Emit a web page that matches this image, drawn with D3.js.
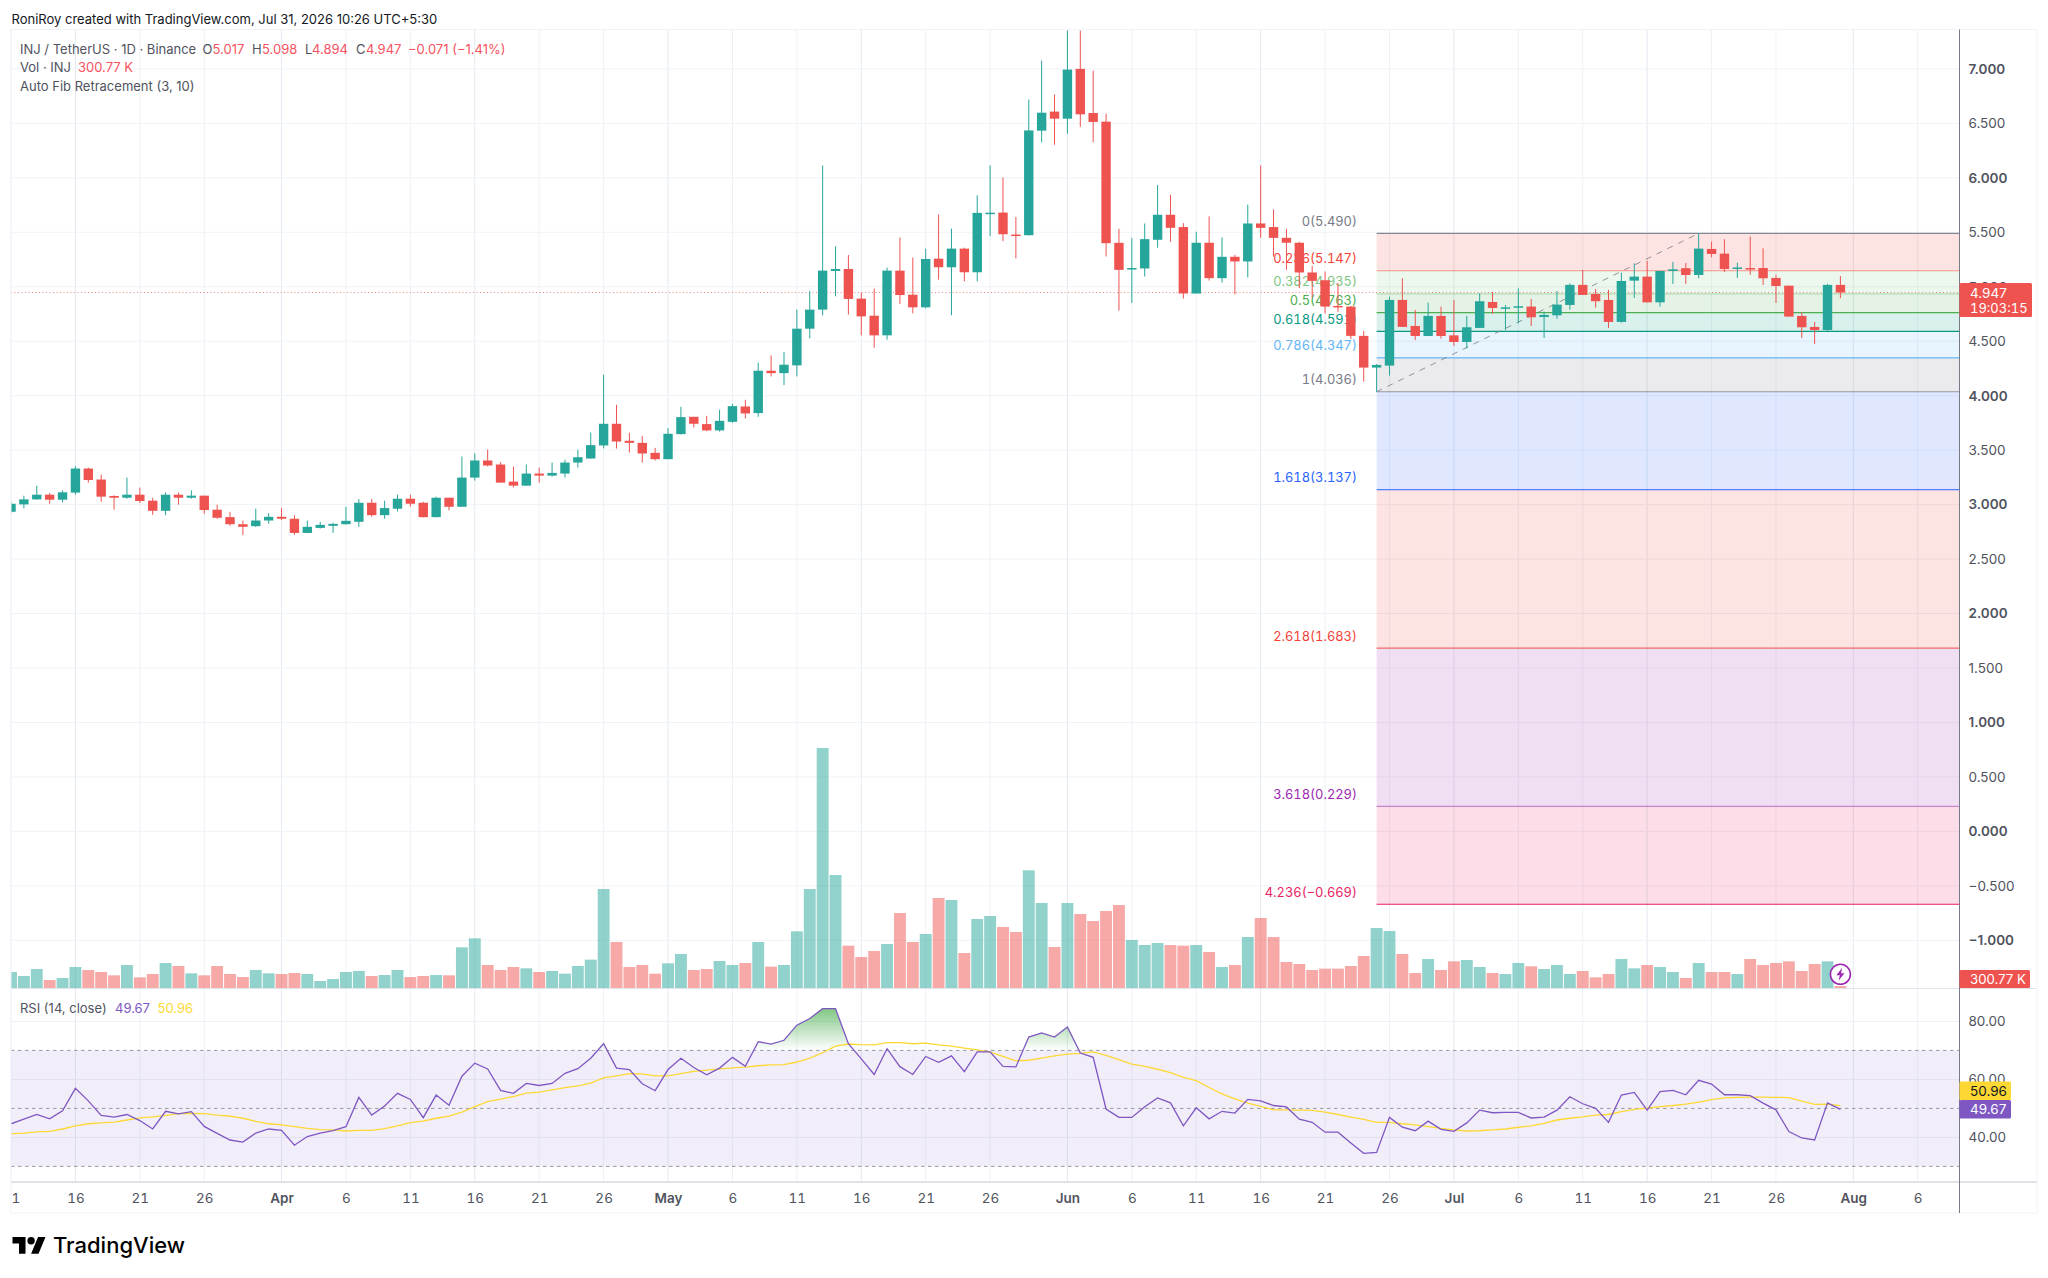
<!DOCTYPE html>
<html>
<head>
<meta charset="utf-8">
<title>INJ / TetherUS</title>
<script src="https://cdn.jsdelivr.net/npm/d3@7"></script>
<style>
  body { margin: 0; background: #fff; }
  svg { display: block; }
  text { font-family: Inter, "Noto Sans", sans-serif; }
  .tnum { font-variant-numeric: tabular-nums; }
</style>
</head>
<body>
<svg id="chart" width="2048" height="1278"></svg>
<script>
// daily candles, Mar 11 to Jul 31 2026
const startDay = Date.UTC(2026, 2, 11);
const endDay = Date.UTC(2026, 6, 31);

const opens = [
  2.934,3.002,3.048,3.091,3.045,3.110,3.331,3.230,3.079,3.063,
  3.091,3.036,2.943,3.091,3.063,3.082,2.953,2.885,2.820,2.802,
  2.854,2.888,2.870,2.740,2.786,2.805,2.820,2.842,3.017,2.903,
  2.962,3.054,3.017,2.885,3.063,2.980,3.248,3.405,3.368,3.211,
  3.174,3.285,3.266,3.285,3.386,3.423,3.543,3.742,3.586,3.567,
  3.475,3.417,3.647,3.806,3.739,3.681,3.760,3.901,3.840,4.229,
  4.207,4.278,4.615,4.790,5.145,5.163,4.891,4.734,4.554,5.148,
  4.927,4.811,5.258,5.179,5.350,5.133,5.678,5.681,5.479,5.473,
  6.433,6.608,6.543,7.000,6.595,6.516,5.403,5.170,5.168,5.431,
  5.661,5.548,4.938,5.404,5.079,5.275,5.232,5.581,5.548,5.449,
  5.404,5.131,5.060,4.824,4.818,4.549,4.258,4.276,4.879,4.640,
  4.548,4.732,4.554,4.493,4.622,4.860,4.808,4.818,4.818,4.722,
  4.738,4.833,5.017,4.934,4.879,4.677,5.056,5.093,4.857,5.145,
  5.170,5.108,5.347,5.304,5.175,5.172,5.172,5.081,5.010,4.732,
  4.631,4.603,5.017];
const closes = [
  3.008,3.048,3.091,3.045,3.113,3.331,3.226,3.073,3.063,3.091,
  3.033,2.943,3.091,3.063,3.082,2.950,2.879,2.820,2.796,2.854,
  2.888,2.870,2.740,2.796,2.814,2.823,2.851,3.017,2.903,2.968,
  3.054,3.008,2.885,3.063,2.980,3.248,3.405,3.359,3.202,3.174,
  3.285,3.266,3.291,3.386,3.435,3.546,3.742,3.579,3.567,3.469,
  3.417,3.650,3.803,3.742,3.681,3.769,3.904,3.837,4.229,4.207,
  4.284,4.615,4.790,5.148,5.163,4.888,4.728,4.554,5.148,4.924,
  4.811,5.255,5.179,5.350,5.133,5.678,5.680,5.482,5.473,6.435,
  6.598,6.543,6.994,6.583,6.513,5.400,5.155,5.172,5.437,5.661,
  5.541,4.938,5.404,5.079,5.275,5.232,5.581,5.541,5.449,5.404,
  5.131,5.054,4.818,4.818,4.549,4.258,4.282,4.879,4.631,4.548,
  4.732,4.548,4.493,4.628,4.867,4.805,4.811,4.821,4.720,4.741,
  4.836,5.017,4.925,4.867,4.677,5.053,5.093,4.857,5.145,5.160,
  5.108,5.350,5.301,5.163,5.177,5.163,5.078,5.007,4.726,4.628,
  4.603,5.017,4.947];
const highs = [
  3.029,3.082,3.174,3.106,3.131,3.353,3.340,3.276,3.085,3.248,
  3.156,3.063,3.113,3.110,3.131,3.082,2.999,2.934,2.854,2.962,
  2.922,2.968,2.903,2.854,2.842,2.833,2.980,3.051,3.051,3.036,
  3.091,3.091,3.026,3.073,3.063,3.442,3.470,3.506,3.390,3.350,
  3.368,3.340,3.386,3.411,3.503,3.662,4.192,3.916,3.659,3.631,
  3.521,3.702,3.898,3.806,3.815,3.870,3.926,3.962,4.302,4.370,
  4.401,4.790,4.961,6.113,5.372,5.292,4.946,4.983,5.176,5.451,
  5.268,5.350,5.663,5.534,5.359,5.840,6.113,6.003,5.641,6.718,
  7.076,6.764,7.400,7.400,6.984,6.589,5.532,5.446,5.581,5.934,
  5.845,5.584,5.505,5.646,5.453,5.293,5.753,6.114,5.710,5.532,
  5.413,5.192,5.140,5.033,4.824,4.595,4.290,4.909,5.078,4.787,
  4.854,4.818,4.879,4.732,4.940,4.952,4.833,4.986,4.888,4.772,
  4.961,5.032,5.154,4.980,4.971,5.130,5.215,5.237,5.145,5.228,
  5.218,5.491,5.414,5.436,5.222,5.460,5.353,5.111,5.010,4.766,
  4.677,5.026,5.098];
const lows = [
  2.922,2.965,3.045,3.008,3.020,3.091,3.202,3.026,2.953,3.054,
  3.014,2.906,2.903,2.999,3.054,2.916,2.870,2.805,2.722,2.796,
  2.823,2.857,2.722,2.737,2.780,2.740,2.817,2.796,2.888,2.870,
  2.937,2.980,2.882,2.882,2.946,2.980,3.220,3.350,3.202,3.159,
  3.171,3.202,3.257,3.249,3.340,3.423,3.515,3.515,3.478,3.386,
  3.405,3.417,3.644,3.708,3.674,3.671,3.751,3.791,3.806,4.177,
  4.097,4.177,4.526,4.738,4.912,4.744,4.554,4.440,4.514,4.842,
  4.756,4.802,5.065,4.738,5.050,5.050,5.464,5.418,5.261,5.471,
  6.326,6.304,6.405,6.467,6.326,5.278,4.782,4.852,5.094,5.358,
  5.413,4.892,4.938,5.057,5.039,4.929,5.085,5.449,5.278,5.155,
  4.987,4.901,4.754,4.769,4.521,4.129,4.036,4.184,4.631,4.512,
  4.548,4.524,4.457,4.432,4.622,4.750,4.603,4.665,4.640,4.530,
  4.707,4.790,4.925,4.808,4.622,4.670,4.897,4.857,4.818,5.026,
  5.026,5.078,5.270,5.136,5.081,5.111,5.017,4.851,4.726,4.530,
  4.475,4.594,4.894];
// volume in thousands of INJ
const volumes = [
  2400,1800,2850,1200,1500,3150,2700,2400,1900,3450,
  1600,2100,3750,3300,2200,1900,3300,2100,1650,2700,
  2200,2100,2250,2100,1050,1350,2400,2550,1800,1950,
  2700,1650,1800,1950,1900,6100,7450,3450,2700,3150,
  2950,2400,2550,2150,3300,4250,14850,6900,3150,3450,
  2150,3700,5100,2700,2850,4050,3450,3750,6900,3200,
  3450,8500,14850,36000,16950,6350,4650,5550,6600,11250,
  6900,8100,13500,13200,5250,10350,10800,9150,8400,17650,
  12750,6150,12750,11100,10050,11550,12450,7200,6450,6750,
  6450,6350,6450,5400,3150,3450,7650,10500,7650,3900,
  3600,2700,2900,2900,3300,4800,9000,8550,5100,2250,
  4350,2700,4000,4200,3150,2250,2100,3750,3250,2850,
  3450,2100,2550,1600,2100,4350,2950,3450,3150,2400,
  1500,3750,2400,2400,2100,4350,3450,3750,4000,2550,
  3600,4000,300.77];
const rsi = [
  44.7,46.3,47.9,46.4,49.2,56.9,52.6,47.6,47.0,47.9,
  45.8,42.9,49.0,48.1,48.9,43.8,41.4,39.1,38.4,41.5,
  42.9,42.4,37.3,40.3,41.5,42.3,43.7,53.8,47.7,50.8,
  55.2,53.1,46.8,54.6,51.1,61.1,65.6,63.6,56.2,55.2,
  58.6,57.9,58.6,62.1,63.7,67.3,72.3,63.9,63.4,58.5,
  56.1,63.4,67.3,64.1,61.6,63.9,67.6,64.5,73.0,72.2,
  73.5,78.7,81.0,84.4,84.4,72.3,67.1,61.7,70.6,64.4,
  61.7,67.9,65.9,68.1,62.7,69.5,69.5,64.5,64.3,74.6,
  76.0,74.6,78.1,69.1,67.6,49.8,46.9,46.9,50.6,53.6,
  51.9,44.0,50.2,46.4,49.0,48.4,53.1,52.6,51.0,50.5,
  46.3,45.2,41.8,41.8,38.1,34.5,34.8,46.9,43.5,42.3,
  45.6,42.8,42.1,45.0,49.4,48.5,48.6,48.6,46.7,47.0,
  49.4,54.0,51.6,50.0,45.2,54.6,55.5,49.4,55.8,56.2,
  54.7,59.7,58.4,54.7,54.7,54.4,51.8,49.5,42.0,39.8,
  39.1,51.9,49.67];
const rsiMa = [
  41.2,41.5,41.9,42.1,42.9,44.0,44.7,45.0,45.3,46.0,
  46.7,47.1,47.6,48.2,48.3,48.2,47.7,47.3,46.6,45.5,
  44.7,44.3,43.7,43.1,42.7,42.6,42.2,42.4,42.4,43.0,
  44.0,45.1,45.6,46.6,47.3,48.7,50.6,52.3,53.2,54.1,
  55.3,55.6,56.4,57.2,57.8,58.7,60.5,61.2,62.0,61.9,
  61.2,61.2,62.0,62.8,63.2,63.6,64.0,64.2,64.7,65.0,
  65.1,66.0,67.3,69.2,71.5,72.2,72.0,71.9,72.7,72.7,
  72.3,72.5,71.9,71.5,70.8,70.2,69.4,67.9,66.4,66.6,
  67.3,68.1,68.7,69.0,69.5,68.3,66.8,65.3,64.5,63.5,
  62.3,60.7,59.6,57.2,55.0,53.3,51.8,50.7,49.5,49.5,
  49.4,49.3,48.7,47.9,47.0,46.2,45.2,45.2,44.7,44.3,
  43.7,43.1,42.6,42.2,42.3,42.6,42.9,43.5,44.0,44.8,
  46.0,46.6,47.1,47.7,47.9,48.9,49.7,50.1,50.6,51.0,
  51.5,52.2,53.0,53.6,53.8,53.9,53.9,53.8,53.7,52.5,
  51.4,51.5,50.96];

const fibLevels = ['0','0.236','0.382','0.5','0.618','0.786','1','1.618','2.618','3.618','4.236'];
const fibPrices = [5.490,5.147,4.935,4.763,4.591,4.347,4.036,3.137,1.683,0.229,-0.669];
const fibLabels = ['5.490','5.147','4.935','4.763','4.591','4.347','4.036','3.137','1.683','0.229','−0.669'];
const fibColors = ['#787b86','#f44336','#81c784','#4caf50','#089981','#64b5f6','#787b86','#2962ff','#f44336','#9c27b0','#e91e63'];
const fibLineAlpha = [0.9,0.5,0.5,1,1,1,0.75,0.8,0.75,0.5,1];

const priceTicks = [-1,-0.5,0,0.5,1,1.5,2,2.5,3,3.5,4,4.5,5,5.5,6,6.5,7];
const rsiTicks = [40,60,80];
const dayTicks = [
  [2,11],[2,16],[2,21],[2,26],[3,1],[3,6],[3,11],[3,16],[3,21],[3,26],
  [4,1],[4,6],[4,11],[4,16],[4,21],[4,26],[5,1],[5,6],[5,11],[5,16],[5,21],[5,26],
  [6,1],[6,6],[6,11],[6,16],[6,21],[6,26],[7,1],[7,6]
];

const GREEN = '#26a69a', RED = '#ef5350', INK = '#131722', GREY = '#50535e';
const PANE = { left: 11, right: 1959.5, top: 29.5, volBase: 988, bottom: 1182, axisBottom: 1213, outer: 2037 };

const dates = d3.utcDay.range(startDay, endDay + 1);
const bars = dates.map((d, i) => ({
  date: d, o: opens[i], h: highs[i], l: lows[i], c: closes[i], v: volumes[i],
  rsi: rsi[i], ma: rsiMa[i], up: closes[i] >= opens[i]
}));

const svg = d3.select('#chart');

const scX = d3.scaleUtc().domain([startDay, endDay]).range([PANE.left, 1840.4]);
const scP = d3.scaleLinear().domain([7, -1]).range([68.9, 940.3]);
const scV = d3.scaleLinear().domain([0, 36000]).range([PANE.volBase, 748]);
const scR = d3.scaleLinear().domain([80, 30]).range([1021.4, 1166.4]);

const defs = svg.append('defs');
defs.append('clipPath').attr('id', 'pane').append('rect')
  .attr('x', PANE.left).attr('y', PANE.top + 1)
  .attr('width', PANE.right - PANE.left).attr('height', PANE.bottom - PANE.top);
defs.append('clipPath').attr('id', 'overRsi').append('rect')
  .attr('x', PANE.left).attr('y', 989)
  .attr('width', PANE.right - PANE.left).attr('height', scR(70) - 989);
defs.append('clipPath').attr('id', 'timeClip').append('rect')
  .attr('x', PANE.left).attr('y', 0).attr('width', PANE.right - PANE.left).attr('height', 40);
const grad = defs.append('linearGradient').attr('id', 'obFill')
  .attr('gradientUnits', 'userSpaceOnUse')
  .attr('x1', 0).attr('x2', 0).attr('y1', scR(84.4)).attr('y2', scR(70));
grad.append('stop').attr('offset', 0).attr('stop-color', '#4caf50').attr('stop-opacity', 0.7);
grad.append('stop').attr('offset', 1).attr('stop-color', '#4caf50').attr('stop-opacity', 0);

const tickDates = dayTicks.map(d => Date.UTC(2026, d[0], d[1]));

// frame and grid
const grid = svg.append('g').attr('fill', 'none');
grid.selectAll('line.v').data(tickDates).enter().append('line')
  .attr('x1', d => scX(d)).attr('x2', d => scX(d))
  .attr('y1', PANE.top).attr('y2', PANE.bottom)
  .attr('stroke', (d, i) => i % 3 == 1 ? '#e3eaf1' : '#eef2f6');
grid.selectAll('line.p').data(priceTicks).enter().append('line')
  .attr('x1', PANE.left).attr('x2', PANE.right)
  .attr('y1', d => scP(d)).attr('y2', d => scP(d))
  .attr('stroke', '#f0f3f7');
grid.selectAll('line.r').data(rsiTicks).enter().append('line')
  .attr('x1', PANE.left).attr('x2', PANE.right)
  .attr('y1', d => scR(d)).attr('y2', d => scR(d))
  .attr('stroke', '#eef0f6');

// fib bands and levels
const fibX = scX(Date.UTC(2026, 5, 25));
const fib = svg.append('g');
fib.selectAll('rect').data(fibPrices.slice(1)).enter().append('rect')
  .attr('x', fibX).attr('width', PANE.right - fibX)
  .attr('y', (d, i) => scP(fibPrices[i]))
  .attr('height', (d, i) => scP(d) - scP(fibPrices[i]))
  .attr('fill', (d, i) => fibColors[i + 1]).attr('fill-opacity', 0.15);
fib.selectAll('line').data(fibPrices).enter().append('line')
  .attr('x1', fibX).attr('x2', PANE.right)
  .attr('y1', d => scP(d)).attr('y2', d => scP(d))
  .attr('stroke', (d, i) => fibColors[i]).attr('stroke-width', 1.2)
  .attr('stroke-opacity', (d, i) => fibLineAlpha[i]);

// volume
const stepX = scX(startDay + 864e5) - scX(startDay);
svg.append('g').attr('clip-path', 'url(#pane)')
  .selectAll('rect').data(bars).enter().append('rect')
  .attr('x', d => scX(d.date) - stepX / 2 + 0.5)
  .attr('width', stepX - 1)
  .attr('y', d => scV(d.v))
  .attr('height', d => scV(0) - scV(d.v))
  .attr('fill', d => d.up ? GREEN : RED).attr('fill-opacity', 0.5);

// fib labels sit under the candles
fib.append('g').selectAll('text').data(fibPrices).enter().append('text')
  .attr('class', 'tnum')
  .attr('x', 1357).attr('y', d => scP(d) - 12)
  .attr('dy', '0.35em').attr('text-anchor', 'end').attr('font-size', 12.9)
  .attr('fill', (d, i) => fibColors[i])
  .text((d, i) => fibLevels[i] + '(' + fibLabels[i] + ')');

// last price line
svg.append('line')
  .attr('x1', PANE.left).attr('x2', PANE.right)
  .attr('y1', scP(closes[closes.length - 1])).attr('y2', scP(closes[closes.length - 1]))
  .attr('stroke', RED).attr('stroke-opacity', 0.7).attr('stroke-dasharray', '1 2.5');

// fib trend line
svg.append('line')
  .attr('x1', fibX).attr('y1', scP(fibPrices[6]))
  .attr('x2', scX(Date.UTC(2026, 6, 20))).attr('y2', scP(fibPrices[0]))
  .attr('stroke', '#787b86').attr('stroke-opacity', 0.8).attr('stroke-dasharray', '6 6');

// candles
const candles = svg.append('g').attr('clip-path', 'url(#pane)');
candles.selectAll('line').data(bars).enter().append('line')
  .attr('x1', d => scX(d.date)).attr('x2', d => scX(d.date))
  .attr('y1', d => scP(d.h)).attr('y2', d => scP(d.l))
  .attr('stroke', d => d.up ? GREEN : RED).attr('stroke-width', 1);
candles.selectAll('rect').data(bars).enter().append('rect')
  .attr('x', d => scX(d.date) - 4.7).attr('width', 9.4)
  .attr('y', d => scP(Math.max(d.o, d.c)))
  .attr('height', d => Math.max(1.5, Math.abs(scP(d.o) - scP(d.c))))
  .attr('fill', d => d.up ? GREEN : RED);

// RSI pane
svg.append('rect')
  .attr('x', PANE.left).attr('width', PANE.right - PANE.left)
  .attr('y', scR(70)).attr('height', scR(30) - scR(70))
  .attr('fill', '#7e57c2').attr('fill-opacity', 0.1);
svg.append('g').selectAll('line').data([70, 50, 30]).enter().append('line')
  .attr('x1', PANE.left).attr('x2', PANE.right)
  .attr('y1', d => scR(d)).attr('y2', d => scR(d))
  .attr('stroke', '#787b86').attr('stroke-opacity', 0.75).attr('stroke-dasharray', '3.5 3.5');
const areaOver = d3.area().x(d => scX(d.date)).y0(scR(70)).y1(d => scR(d.rsi));
svg.append('path').attr('clip-path', 'url(#overRsi)')
  .attr('fill', 'url(#obFill)').attr('d', areaOver(bars));
const lnMa = d3.line().x(d => scX(d.date)).y(d => scR(d.ma));
const lnRsi = d3.line().x(d => scX(d.date)).y(d => scR(d.rsi));
svg.append('path').attr('clip-path', 'url(#pane)').attr('fill', 'none')
  .attr('stroke', '#fdd835').attr('stroke-width', 1.3).attr('d', lnMa(bars));
svg.append('path').attr('clip-path', 'url(#pane)').attr('fill', 'none')
  .attr('stroke', '#7e57c2').attr('stroke-width', 1.3).attr('d', lnRsi(bars));

// borders
const borders = svg.append('g');
borders.append('path').attr('fill', 'none').attr('stroke', '#f0f3fa')
  .attr('d', `M${PANE.left},${PANE.axisBottom}V${PANE.top}H${PANE.outer}V${PANE.axisBottom}H${PANE.left}`);
borders.append('line').attr('x1', PANE.left).attr('x2', PANE.outer)
  .attr('y1', PANE.volBase + 0.5).attr('y2', PANE.volBase + 0.5).attr('stroke', '#e0e3eb');
borders.append('line').attr('x1', PANE.left).attr('x2', PANE.outer)
  .attr('y1', PANE.bottom).attr('y2', PANE.bottom).attr('stroke', '#d6d9e0').attr('stroke-width', 1.6);
borders.append('line').attr('x1', PANE.right).attr('x2', PANE.right)
  .attr('y1', PANE.top).attr('y2', PANE.axisBottom).attr('stroke', '#787b86');

// axes
const axP = d3.axisRight(scP).tickValues(priceTicks).tickSize(0).tickPadding(9).tickFormat(d3.format('.3f'));
const gP = svg.append('g').attr('transform', `translate(${PANE.right},0)`).call(axP);
gP.select('.domain').remove();
gP.selectAll('text')
  .attr('font-family', 'Inter').attr('font-size', 13.5).attr('fill', GREY)
  .attr('font-weight', d => Number.isInteger(d) ? 600 : 400);

const axR = d3.axisRight(scR).tickValues(rsiTicks).tickSize(0).tickPadding(9).tickFormat(d3.format('.2f'));
const gR = svg.append('g').attr('transform', `translate(${PANE.right},0)`).call(axR);
gR.select('.domain').remove();
gR.selectAll('text').attr('font-family', 'Inter').attr('font-size', 13.5).attr('fill', GREY);

const monthFmt = d3.utcFormat('%b'), dayFmt = d3.utcFormat('%-d');
const axT = d3.axisBottom(scX).tickValues(tickDates).tickSize(0).tickPadding(11)
  .tickFormat(d => new Date(d).getUTCDate() == 1 ? monthFmt(d) : dayFmt(d));
const gT = svg.append('g').attr('transform', `translate(0,${PANE.bottom})`)
  .attr('clip-path', 'url(#timeClip)').call(axT);
gT.select('.domain').remove();
gT.selectAll('text')
  .attr('font-family', 'Inter').attr('font-size', 13.5).attr('fill', GREY)
  .attr('class', 'tnum')
  .attr('font-weight', d => new Date(d).getUTCDate() == 1 ? 600 : 400);

// price tags on the axis
const tag = (x, y, w, h, fill) => svg.append('rect')
  .attr('x', x).attr('y', y).attr('width', w).attr('height', h).attr('rx', 1.5).attr('fill', fill);
const label = (x, y, txt, fill, size, anchor) => svg.append('text')
  .attr('x', x).attr('y', y).attr('dy', '0.35em').attr('font-size', size || 13.5)
  .attr('text-anchor', anchor || 'start').attr('fill', fill).text(txt);

tag(PANE.right, 283, 72.5, 34, RED);
label(1970, 293.5, '4.947', '#fff');
label(1970, 308.5, '19:03:15', '#fff', 13).attr('class', 'tnum');
tag(PANE.right, 970, 70.5, 18, RED);
label(1970, 979.5, '300.77 K', '#fff', 13.2);
tag(PANE.right, 1081.5, 51.5, 18.5, '#fdd835');
label(1970, 1091, '50.96', INK);
tag(PANE.right, 1100, 51.5, 18.5, '#7e57c2');
label(1970, 1109.5, '49.67', '#fff');

// alert badge on the last bar
const badge = svg.append('g').attr('transform', `translate(${scX(endDay)},974.3)`);
badge.append('circle').attr('r', 10).attr('fill', '#fff').attr('stroke', '#9c27b0').attr('stroke-width', 1.6);
badge.append('path').attr('fill', '#9c27b0').attr('d', 'M1.8,-6.5L-4,1L-0.6,1L-1.8,6.5L4,-1L0.6,-1Z');

// header text
label(11.5, 19.5, 'RoniRoy created with TradingView.com, Jul 31, 2026 10:26 UTC+5:30', INK, 13);
const LEGEND_GREY = '#50535e', LEGEND_RED = '#f7525f';
label(20, 49, 'INJ / TetherUS · 1D · Binance', LEGEND_GREY, 13);
[[202.5, 'O', 212.5, '5.017'], [252, 'H', 262, '5.098'], [305, 'L', 312, '4.894'], [356, 'C', 366, '4.947']]
  .forEach(r => { label(r[0], 49, r[1], LEGEND_GREY, 13); label(r[2], 49, r[3], LEGEND_RED, 13); });
label(408, 49, '−0.071 (−1.41%)', LEGEND_RED, 13);
label(20, 67.7, 'Vol · INJ', LEGEND_GREY, 13);
label(78, 67.7, '300.77 K', LEGEND_RED, 13);
label(20, 86, 'Auto Fib Retracement (3, 10)', LEGEND_GREY, 13);
label(20, 1008.7, 'RSI (14, close)', LEGEND_GREY, 13);
label(115, 1008.7, '49.67', '#7e57c2', 13);
label(157.6, 1008.7, '50.96', '#fdd835', 13);

// watermark
svg.append('path').attr('transform', 'translate(12.5,1233.3) scale(0.93)').attr('fill', '#000')
  .attr('d', 'M14 22H7V11H0V4h14v18zM28 22h-8l7.5-18h8L28 22z');
svg.append('circle').attr('cx', 12.5 + 20 * 0.93).attr('cy', 1233.3 + 8 * 0.93).attr('r', 3.7).attr('fill', '#000');
svg.append('text').attr('x', 53).attr('y', 1253).attr('font-size', 22).attr('font-weight', 500)
  .attr('fill', '#000').text('TradingView');
</script>
</body>
</html>
